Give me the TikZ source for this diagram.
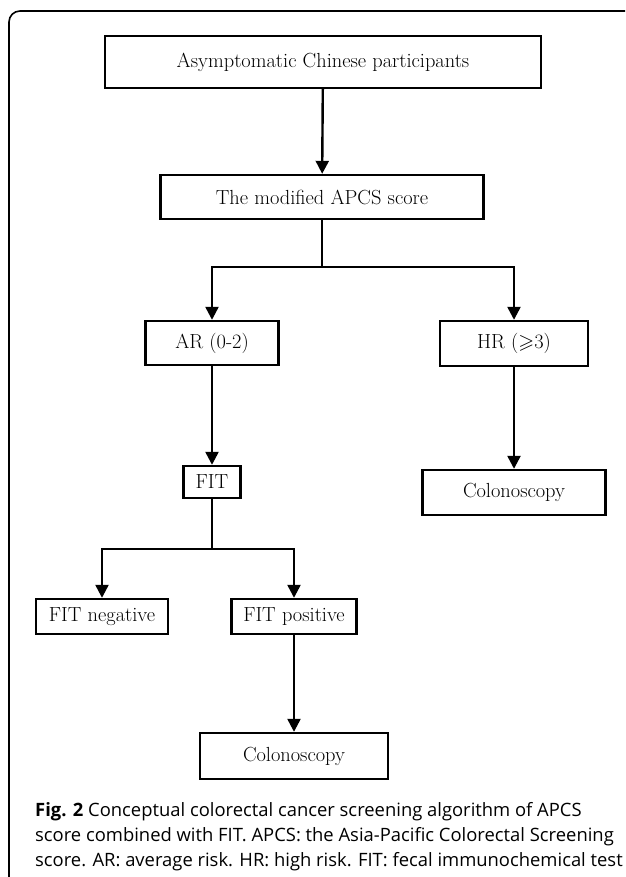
\documentclass[tikz,border=0pt]{standalone}
\usepackage{amssymb}
\usepackage{fontspec}
\setsansfont{Open Sans}
\usetikzlibrary{arrows.meta}
\tikzset{
  flowbox/.style={draw, line width=2.4pt, inner sep=0pt, font=\fontsize{20.4}{23}\selectfont},
  flowline/.style={line width=2.4pt},
  flowarrow/.style={flowline, -{Triangle[width=13pt,length=13pt]}},
  frameline/.style={line width=1.6pt, rounded corners=11pt},
}
\begin{document}
\begin{tikzpicture}[x=1pt,y=-1pt]
  \useasboundingbox (0,0) rectangle (625,877);
  %Outer frame, open at the right and at the bottom
  \begin{scope}
    \clip (0,0) rectangle (625,877);
    \draw[frameline] (9,900) -- (9,11) -- (640,11);
  \end{scope}
  %Boxes of the flow chart
  \node[flowbox, minimum width=436pt, minimum height=52pt] (start) at (323,62) {Asymptomatic Chinese participants};
  \node[flowbox, minimum width=323pt, minimum height=44pt] (apcs) at (322,197) {The modified APCS score};
  \node[flowbox, minimum width=133pt, minimum height=44pt] (ar) at (212,343) {AR (0-2)};
  \node[flowbox, minimum width=148pt, minimum height=45pt] (hr) at (514,343.5) {HR ($\geqslant$3)};
  \node[flowbox, minimum width=57pt, minimum height=32pt] (fit) at (212,482) {FIT};
  \node[flowbox, minimum width=183pt, minimum height=45pt] (colR) at (514,492.5) {Colonoscopy};
  \node[flowbox, minimum width=132pt, minimum height=35pt] (neg) at (102,616.5) {FIT negative};
  \node[flowbox, minimum width=125pt, minimum height=35pt] (pos) at (294,616.5) {FIT positive};
  \node[flowbox, minimum width=188pt, minimum height=46pt] (colL) at (294,756) {Colonoscopy};
  %Forks
  \coordinate (fork1) at (322,267);
  \coordinate (fork2) at (212,549);
  %Connectors
  \draw[flowarrow] (start) -- (apcs);
  \draw[flowline] (apcs) -- (fork1);
  \draw[flowarrow] (fork1) -| (ar);
  \draw[flowarrow] (fork1) -| (hr);
  \draw[flowarrow] (ar) -- (fit);
  \draw[flowarrow] (hr) -- (colR);
  \draw[flowline] (fit) -- (fork2);
  \draw[flowarrow] (fork2) -| (neg);
  \draw[flowarrow] (fork2) -| (pos);
  \draw[flowarrow] (pos) -- (colL);
  %Caption
  \node[anchor=base west, align=left, inner sep=0pt, font=\sffamily\fontsize{18.4}{25}\selectfont] (caption) at (35,866)
    {\textbf{Fig. 2} Conceptual colorectal cancer screening algorithm of APCS\\
     score combined with FIT. APCS: the Asia-Pacific Colorectal Screening\\
     score. AR: average risk. HR: high risk. FIT: fecal immunochemical test};
\end{tikzpicture}
\end{document}
